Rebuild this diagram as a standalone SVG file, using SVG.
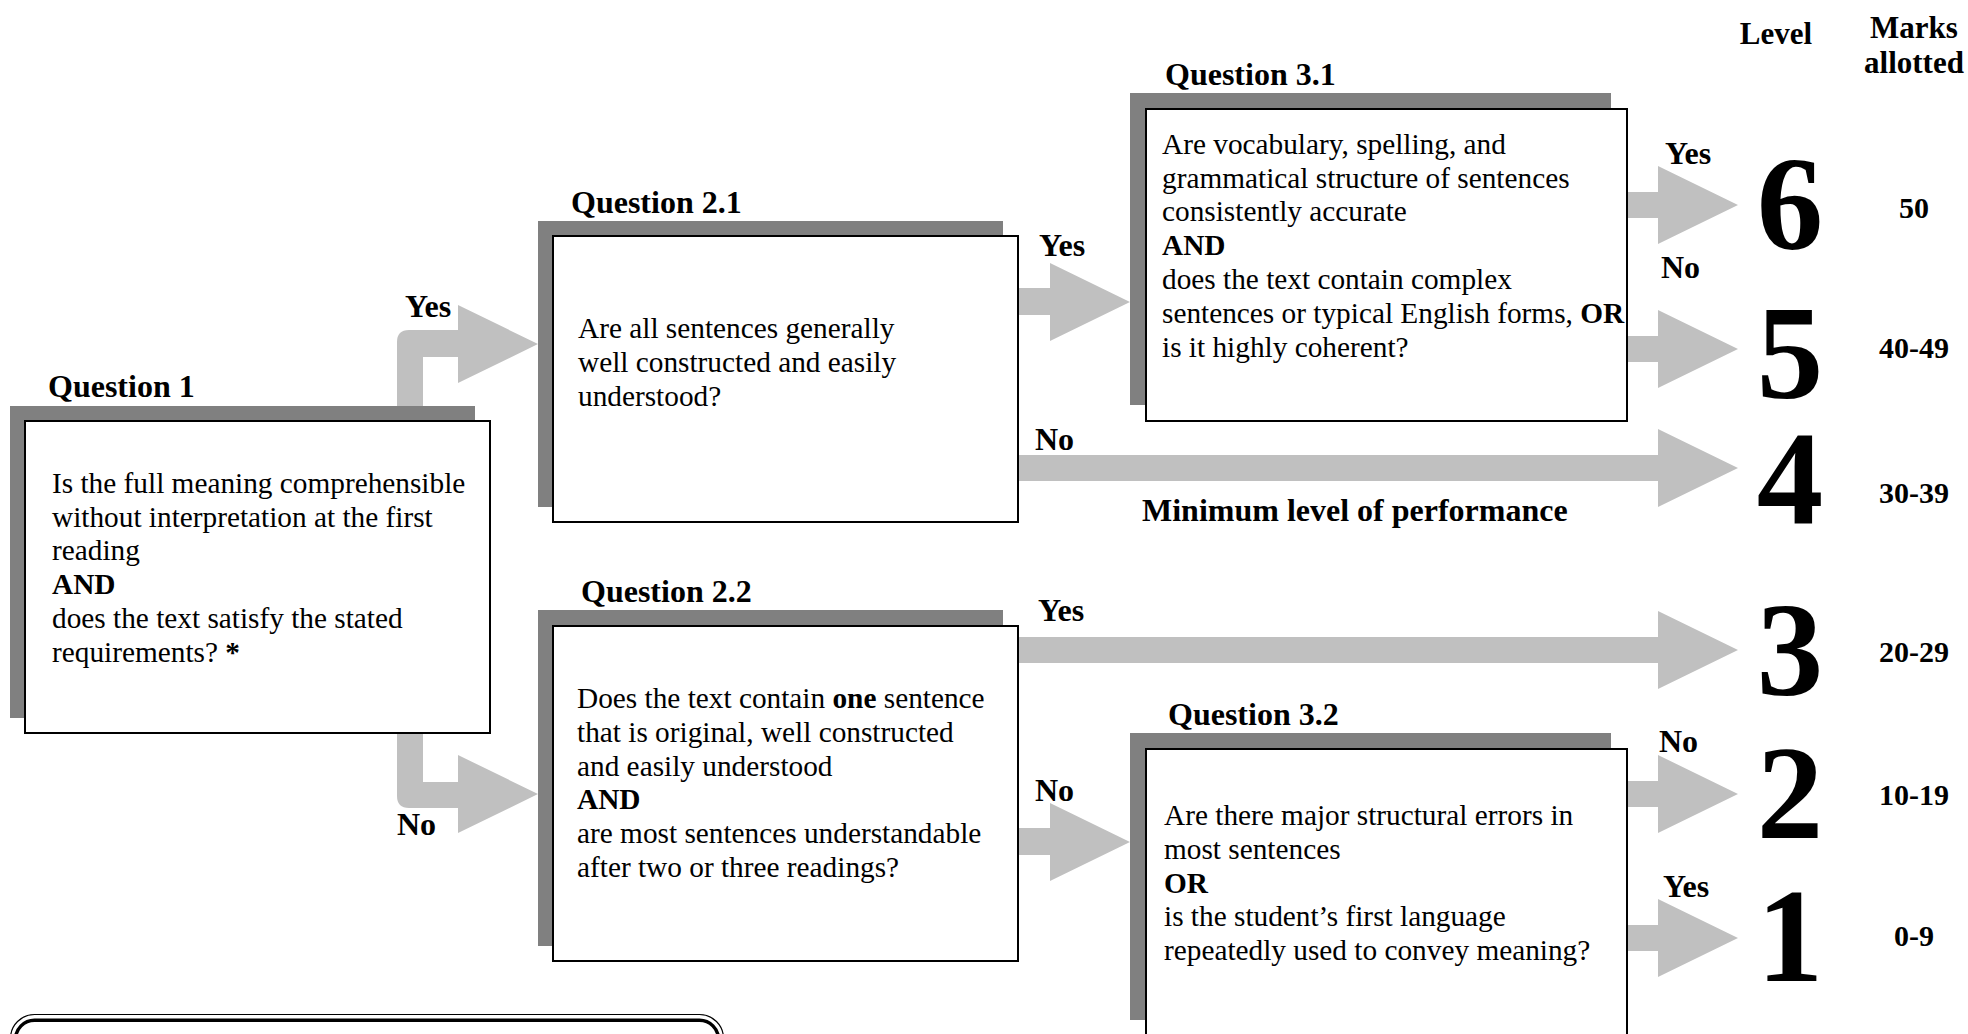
<svg xmlns="http://www.w3.org/2000/svg" width="1968" height="1034" viewBox="0 0 1968 1034">
<style>
  .shadow { fill: #808080; }
  .box { fill: #ffffff; stroke: #000000; stroke-width: 2; }
  .arrow { fill: #C0C0C0; }
  text { font-family: "Liberation Serif", "Times New Roman", serif; fill: #000; }
  .t { font-size: 29.3px; }
  .b { font-weight: bold; }
  .lbl { font-size: 32px; font-weight: bold; }
  .big { font-size: 133px; font-weight: bold; text-anchor: middle; }
  .mk { font-size: 30px; font-weight: bold; text-anchor: middle; }
  .hd { font-size: 31px; font-weight: bold; text-anchor: middle; }
</style>
<rect x="0" y="0" width="1968" height="1034" fill="#ffffff"/>

<g id="connectors">
  <!-- Q1 Yes -->
  <path class="arrow" d="M397 415 L397 342 Q397 330 409 330 L458 330 L458 305 L538 344 L458 383 L458 357 L423 357 L423 415 Z"/>
  <!-- Q1 No -->
  <path class="arrow" d="M397 733 L397 796 Q397 808 409 808 L458 808 L458 833 L538 794 L458 755 L458 782 L423 782 L423 733 Z"/>
  <!-- Q2.1 Yes -> Q3.1 -->
  <path class="arrow" d="M1018 288 L1050 288 L1050 263 L1130 302 L1050 341 L1050 315 L1018 315 Z"/>
  <!-- Q2.1 No -> 4 -->
  <path class="arrow" d="M1018 455 L1658 455 L1658 429 L1738 468 L1658 507 L1658 481 L1018 481 Z"/>
  <!-- Q2.2 Yes -> 3 -->
  <path class="arrow" d="M1018 637 L1658 637 L1658 611 L1738 650 L1658 689 L1658 663 L1018 663 Z"/>
  <!-- Q2.2 No -> Q3.2 -->
  <path class="arrow" d="M1018 828 L1050 828 L1050 803 L1130 842 L1050 881 L1050 855 L1018 855 Z"/>
  <!-- Q3.1 Yes -> 6 -->
  <path class="arrow" d="M1627 192 L1658 192 L1658 166 L1738 205 L1658 244 L1658 218 L1627 218 Z"/>
  <!-- Q3.1 No -> 5 -->
  <path class="arrow" d="M1627 336 L1658 336 L1658 310 L1738 349 L1658 388 L1658 362 L1627 362 Z"/>
  <!-- Q3.2 No -> 2 -->
  <path class="arrow" d="M1627 781 L1658 781 L1658 755 L1738 794 L1658 833 L1658 807 L1627 807 Z"/>
  <!-- Q3.2 Yes -> 1 -->
  <path class="arrow" d="M1627 925 L1658 925 L1658 899 L1738 938 L1658 977 L1658 951 L1627 951 Z"/>

  <text class="lbl" x="405" y="317">Yes</text>
  <text class="lbl" x="397" y="835">No</text>
  <text class="lbl" x="1039" y="256">Yes</text>
  <text class="lbl" x="1035" y="450">No</text>
  <text class="lbl" x="1142" y="521">Minimum level of performance</text>
  <text class="lbl" x="1038" y="621">Yes</text>
  <text class="lbl" x="1035" y="801">No</text>
  <text class="lbl" x="1665" y="164">Yes</text>
  <text class="lbl" x="1661" y="278">No</text>
  <text class="lbl" x="1659" y="752">No</text>
  <text class="lbl" x="1663" y="897">Yes</text>
</g>

<g id="q1">
  <text class="lbl" x="48" y="397">Question 1</text>
  <rect class="shadow" x="10" y="406" width="465" height="312"/>
  <rect class="box" x="25" y="421" width="465" height="312"/>
  <text class="t" x="52" y="493">Is the full meaning comprehensible</text>
  <text class="t" x="52" y="527">without interpretation at the first</text>
  <text class="t" x="52" y="560">reading</text>
  <text class="t b" x="52" y="594">AND</text>
  <text class="t" x="52" y="628">does the text satisfy the stated</text>
  <text class="t" x="52" y="662">requirements? <tspan class="b">*</tspan></text>
</g>

<g id="q21">
  <text class="lbl" x="571" y="213">Question 2.1</text>
  <rect class="shadow" x="538" y="221" width="465" height="286"/>
  <rect class="box" x="553" y="236" width="465" height="286"/>
  <text class="t" x="578" y="338">Are all sentences generally</text>
  <text class="t" x="578" y="372">well constructed and easily</text>
  <text class="t" x="578" y="406">understood?</text>
</g>

<g id="q22">
  <text class="lbl" x="581" y="602">Question 2.2</text>
  <rect class="shadow" x="538" y="610" width="465" height="336"/>
  <rect class="box" x="553" y="626" width="465" height="335"/>
  <text class="t" x="577" y="708">Does the text contain <tspan class="b">one</tspan> sentence</text>
  <text class="t" x="577" y="742">that is original, well constructed</text>
  <text class="t" x="577" y="776">and easily understood</text>
  <text class="t b" x="577" y="809">AND</text>
  <text class="t" x="577" y="843">are most sentences understandable</text>
  <text class="t" x="577" y="877">after two or three readings?</text>
</g>

<g id="q31">
  <text class="lbl" x="1165" y="85">Question 3.1</text>
  <rect class="shadow" x="1130" y="93" width="481" height="312"/>
  <rect class="box" x="1146" y="109" width="481" height="312"/>
  <text class="t" x="1162" y="154">Are vocabulary, spelling, and</text>
  <text class="t" x="1162" y="188">grammatical structure of sentences</text>
  <text class="t" x="1162" y="221">consistently accurate</text>
  <text class="t b" x="1162" y="255">AND</text>
  <text class="t" x="1162" y="289">does the text contain complex</text>
  <text class="t" x="1162" y="323">sentences or typical English forms, <tspan class="b">OR</tspan></text>
  <text class="t" x="1162" y="357">is it highly coherent?</text>
</g>

<g id="q32">
  <text class="lbl" x="1168" y="725">Question 3.2</text>
  <rect class="shadow" x="1130" y="733" width="481" height="287"/>
  <rect class="box" x="1146" y="749" width="481" height="300"/>
  <text class="t" x="1164" y="825">Are there major structural errors in</text>
  <text class="t" x="1164" y="859">most sentences</text>
  <text class="t b" x="1164" y="893">OR</text>
  <text class="t" x="1164" y="926">is the student’s first language</text>
  <text class="t" x="1164" y="960">repeatedly used to convey meaning?</text>
</g>

<g id="levels">
  <text class="hd" x="1776" y="44">Level</text>
  <text class="hd" x="1914" y="38">Marks</text>
  <text class="hd" x="1914" y="73">allotted</text>
  <text class="big" x="1790" y="249">6</text>
  <text class="big" x="1790" y="398">5</text>
  <text class="big" x="1790" y="523">4</text>
  <text class="big" x="1790" y="695">3</text>
  <text class="big" x="1790" y="838">2</text>
  <text class="big" x="1790" y="981">1</text>
  <text class="mk" x="1914" y="218">50</text>
  <text class="mk" x="1914" y="358">40-49</text>
  <text class="mk" x="1914" y="503">30-39</text>
  <text class="mk" x="1914" y="662">20-29</text>
  <text class="mk" x="1914" y="805">10-19</text>
  <text class="mk" x="1914" y="946">0-9</text>
</g>

<g id="note">
  <rect x="10.5" y="1014.5" width="713" height="80" rx="24" fill="none" stroke="#000" stroke-width="1.2"/>
  <rect x="15.5" y="1020.3" width="703" height="80" rx="19" fill="#fff" stroke="#000" stroke-width="3.5"/>
</g>
</svg>
